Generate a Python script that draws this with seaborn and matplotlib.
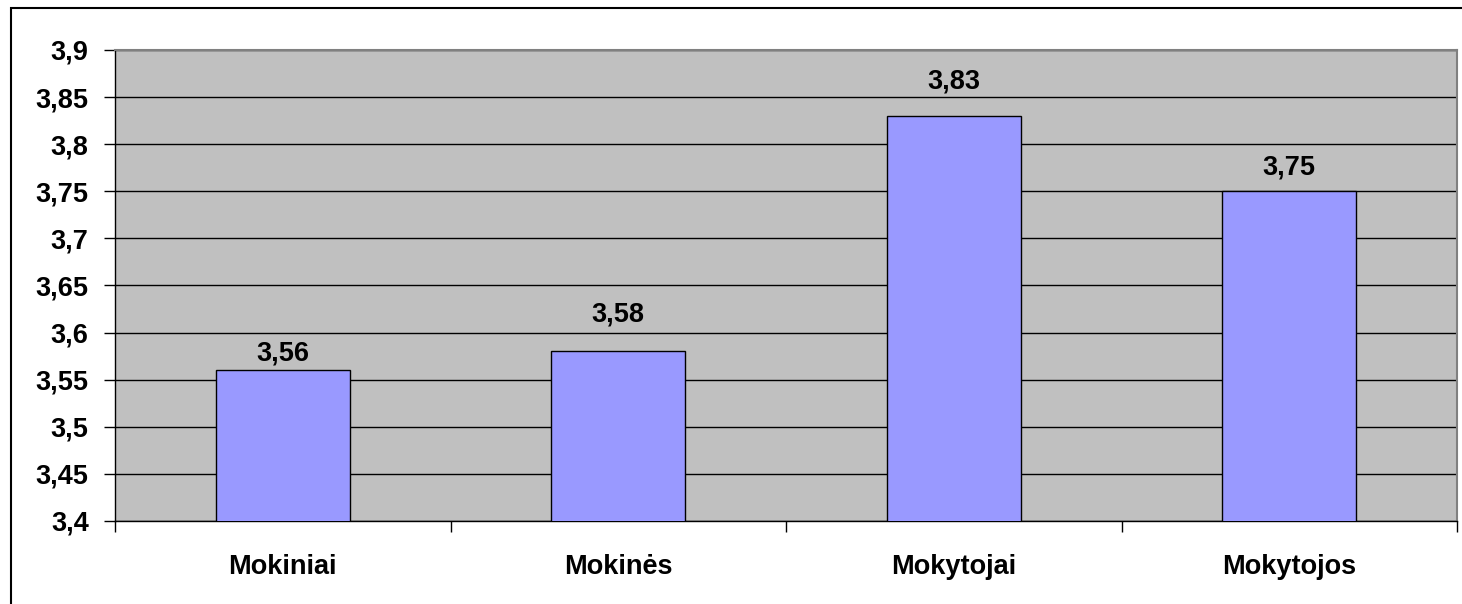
import matplotlib
matplotlib.use("Agg")
import matplotlib.pyplot as plt
import matplotlib.ticker as mticker
from matplotlib.patches import Rectangle
import seaborn as sns
import pandas as pd
import numpy as np

categories = ["Mokiniai", "Mokinės", "Mokytojai", "Mokytojos"]
values = [3.56, 3.58, 3.83, 3.75]
# gap between bar top and its value label (points), as in the original
label_offsets = [7, 21.5, 20, 12]

df = pd.DataFrame({"grupe": categories, "vidurkis": values})

sns.set_style("white")
plt.rcParams["font.family"] = ["Liberation Sans", "DejaVu Sans"]
plt.rcParams["font.weight"] = "bold"
plt.rcParams["text.color"] = "black"
plt.rcParams["xtick.color"] = "black"
plt.rcParams["ytick.color"] = "black"

fs = 19.5

fig = plt.figure(figsize=(14.62, 6.04), dpi=100)
ax = fig.add_axes([115 / 1462, 1 - 521 / 604, (1457 - 115) / 1462, (521 - 50) / 604])
ax.set_facecolor("#C0C0C0")

sns.barplot(data=df, x="grupe", y="vidurkis", color="#9999FF", edgecolor="black",
            linewidth=1, width=0.4, saturation=1, ax=ax, zorder=3)

ax.set_ylim(3.4, 3.9)
ax.set_xlim(-0.5, 3.5)
ax.yaxis.set_major_locator(mticker.MultipleLocator(0.05))
ax.yaxis.set_major_formatter(mticker.FuncFormatter(
    lambda v, p: ("%.2f" % v).rstrip("0").replace(".", ",")))
ax.grid(axis="y", color="black", linewidth=1, zorder=0)
ax.set_axisbelow(True)

# category borders as major ticks, names on minor ticks
ax.set_xticks(np.arange(-0.5, 4, 1))
ax.set_xticklabels([])
ax.set_xticks(range(len(categories)), minor=True)
ax.set_xticklabels(categories, minor=True)
ax.tick_params(axis="x", which="major", direction="out", length=8, width=1, color="black", bottom=True)
ax.tick_params(axis="x", which="minor", length=0, pad=24, labelsize=fs, labelcolor="black")
ax.tick_params(axis="y", direction="out", length=8, width=1, color="black", left=True,
               labelsize=fs, pad=11, labelcolor="black")

ax.set_xlabel("")
ax.set_ylabel("")

for s in ["left", "bottom"]:
    ax.spines[s].set_color("black")
    ax.spines[s].set_linewidth(1)
for s in ["top", "right"]:
    ax.spines[s].set_color("#808080")
    ax.spines[s].set_linewidth(1.5)

for i, v in enumerate(values):
    ax.annotate(("%.2f" % v).replace(".", ","), (i, v), xytext=(0, label_offsets[i]),
                textcoords="offset points", ha="center", va="baseline",
                fontsize=fs, fontweight="bold", color="black")

fig.patches.append(Rectangle((11 / 1462, -0.1), 1.2, 1 - 8 / 604 + 0.1,
                             transform=fig.transFigure, fill=False,
                             edgecolor="black", linewidth=1.5, clip_on=False))

fig.savefig("out.png", dpi=100)
